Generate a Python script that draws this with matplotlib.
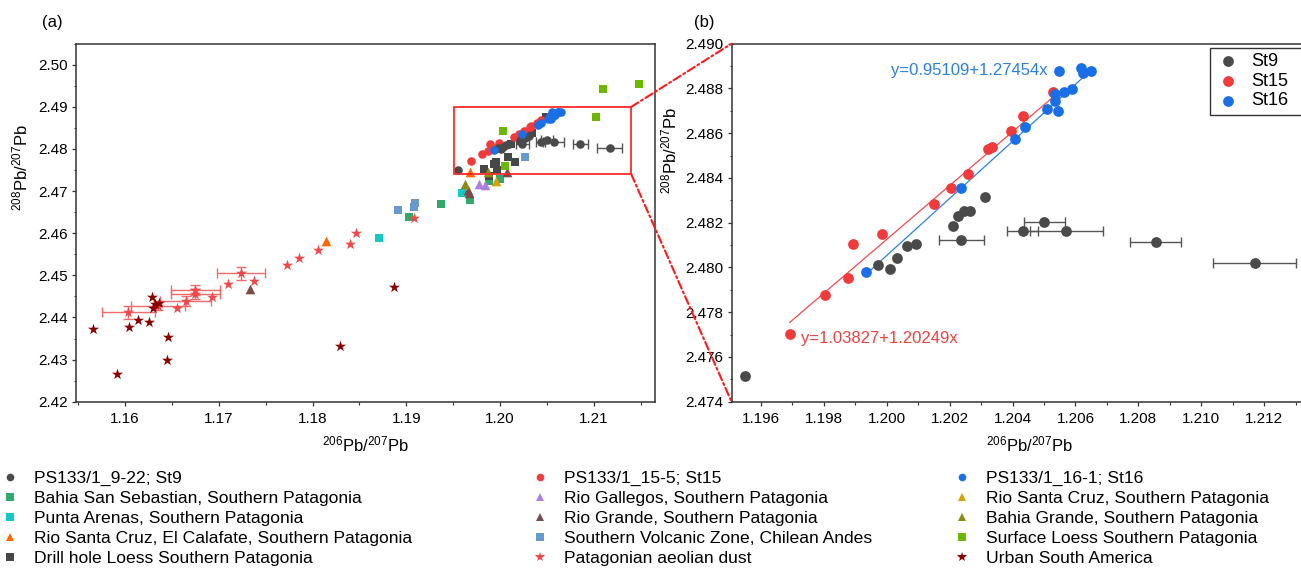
import numpy as np
import matplotlib
matplotlib.use('Agg')
import matplotlib.pyplot as plt
from matplotlib.lines import Line2D
from matplotlib.patches import Rectangle, ConnectionPatch

plt.rcParams['font.family'] = ['Liberation Sans', 'DejaVu Sans']
plt.rcParams['mathtext.fontset'] = 'custom'
plt.rcParams['mathtext.rm'] = 'Liberation Sans'
plt.rcParams['mathtext.default'] = 'regular'

# --- this study ---
st9_x = [1.19548, 1.19973, 1.20011, 1.20032, 1.20064, 1.20094, 1.20212, 1.20227, 1.20244,
         1.20263, 1.20312, 1.20237, 1.20432, 1.20501, 1.20571, 1.20855, 1.21170]
st9_y = [2.47513, 2.48012, 2.47993, 2.48042, 2.48094, 2.48107, 2.48186, 2.48228, 2.48254,
         2.48254, 2.48315, 2.48124, 2.48162, 2.48205, 2.48162, 2.48115, 2.48021]
st9_xerr = [0, 0, 0, 0, 0, 0, 0, 0, 0,
            0, 0, 0.00071, 0.00050, 0.00066, 0.00116, 0.00082, 0.00131]

st15_x = [1.19691, 1.19803, 1.19875, 1.19892, 1.19984, 1.20149, 1.20205, 1.20259, 1.20322,
          1.20333, 1.20394, 1.20432, 1.20529]
st15_y = [2.47704, 2.47878, 2.47955, 2.48107, 2.48150, 2.48284, 2.48353, 2.48417, 2.48531,
          2.48537, 2.48610, 2.48679, 2.48786]

st16_x = [1.19935, 1.20236, 1.20409, 1.20440, 1.20510, 1.20545, 1.20534, 1.20536, 1.20565,
          1.20589, 1.20549, 1.20617, 1.20623, 1.20649]
st16_y = [2.47981, 2.48356, 2.48576, 2.48627, 2.48708, 2.48701, 2.48744, 2.48775, 2.48783,
          2.48799, 2.48879, 2.48890, 2.48868, 2.48879]

# regression coefficients (intercept, slope)
fit15 = (1.03827, 1.20249)
fit16 = (0.95109, 1.27454)

# --- literature data ---
bss_x = [1.19029, 1.19371, 1.19680, 1.19886, 1.20000]
bss_y = [2.46377, 2.46693, 2.46788, 2.47251, 2.47299]

punta_x = [1.18706, 1.19598]
punta_y = [2.45893, 2.46947]

rsc_cal_x = [1.18141, 1.19680]
rsc_cal_y = [2.45822, 2.47460]

drill_x = [1.19829, 1.19940, 1.19960, 1.19964, 1.20080, 1.20160, 1.20115, 1.20231, 1.20340,
           1.20489, 1.19886]
drill_y = [2.47517, 2.47645, 2.47700, 2.47498, 2.47816, 2.47700, 2.48110, 2.48190, 2.48373,
           2.48748, 2.47358]

gallegos_x = [1.19779, 1.19840]
gallegos_y = [2.47178, 2.47144]

rgrande_x = [1.17333, 1.19662, 1.19670, 1.20071]
rgrande_y = [2.44675, 2.47022, 2.46950, 2.47443]

svz_x = [1.18909, 1.19079, 1.19090, 1.20267]
svz_y = [2.46558, 2.46629, 2.46709, 2.47802]

dust_x = [1.16036, 1.16352, 1.16551, 1.16647, 1.16750, 1.16750, 1.16931, 1.17095, 1.17237,
          1.17373, 1.17725, 1.17856, 1.18055, 1.18400, 1.18464, 1.19079]
dust_y = [2.44122, 2.44282, 2.44224, 2.44390, 2.44550, 2.44650, 2.44493, 2.44793, 2.45047,
          2.44870, 2.45245, 2.45404, 2.45601, 2.45736, 2.46012, 2.46353]
dust_xerr = [0.0028, 0.0029, 0, 0.0027, 0.0026, 0.0026, 0, 0, 0.0026,
             0, 0, 0, 0, 0, 0, 0]
dust_yerr = [0.0016, 0.0010, 0, 0.0012, 0.0012, 0.0012, 0, 0, 0.0016,
             0, 0, 0, 0, 0, 0, 0]

rsc_x = [1.19957]
rsc_y = [2.47234]

bgrande_x = [1.19627, 1.19875]
bgrande_y = [2.47178, 2.47460]

surf_x = [1.21102, 1.21483, 1.21024, 1.20035, 1.20053, 1.19960]
surf_y = [2.49423, 2.49534, 2.48766, 2.48435, 2.47603, 2.48025]

urban_x = [1.15662, 1.15918, 1.16043, 1.16142, 1.16256, 1.16285, 1.16302, 1.16320, 1.16366,
           1.16455, 1.16445, 1.18293, 1.18873]
urban_y = [2.43726, 2.42650, 2.43780, 2.43939, 2.43899, 2.44493, 2.44217, 2.44312, 2.44336,
           2.43529, 2.42990, 2.43329, 2.44717]

c_st9, c_st15, c_st16 = '#4a4a4a', '#ef3b3b', '#1a6fe6'

# (label, x, y, marker, color) in legend order
others = [
    ('Bahia San Sebastian, Southern Patagonia', bss_x, bss_y, 's', '#33a86b'),
    ('Punta Arenas, Southern Patagonia', punta_x, punta_y, 's', '#14c8c8'),
    ('Rio Santa Cruz, El Calafate, Southern Patagonia', rsc_cal_x, rsc_cal_y, '^', '#ff6600'),
    ('Drill hole Loess Southern Patagonia', drill_x, drill_y, 's', '#474747'),
    ('Rio Gallegos, Southern Patagonia', gallegos_x, gallegos_y, '^', '#b07ee0'),
    ('Rio Grande, Southern Patagonia', rgrande_x, rgrande_y, '^', '#7a4b4b'),
    ('Southern Volcanic Zone, Chilean Andes', svz_x, svz_y, 's', '#6699cc'),
    ('Patagonian aeolian dust', dust_x, dust_y, '*', '#f04848'),
    ('Rio Santa Cruz, Southern Patagonia', rsc_x, rsc_y, '^', '#d6a000'),
    ('Bahia Grande, Southern Patagonia', bgrande_x, bgrande_y, '^', '#8c8c10'),
    ('Surface Loess Southern Patagonia', surf_x, surf_y, 's', '#6cb800'),
    ('Urban South America', urban_x, urban_y, '*', '#8b0000'),
]
msize = {'s': 36, '^': 48, '*': 70, 'o': 38}

W, H = 1301, 571
fig = plt.figure(figsize=(W / 100, H / 100), dpi=100)
ax_a = fig.add_axes([76 / W, 169.3 / H, 579 / W, 358 / H])
ax_b = fig.add_axes([731.5 / W, 169.3 / H, 595.5 / W, 358 / H])

# ---- panel (a) ----
m = np.array(dust_xerr) > 0
ax_a.errorbar(np.array(dust_x)[m], np.array(dust_y)[m], xerr=np.array(dust_xerr)[m],
              yerr=np.array(dust_yerr)[m], fmt='none', ecolor='#f26a6a', elinewidth=1,
              capsize=3.5, zorder=2)
for lab, xs, ys, mk, col in others:
    ax_a.scatter(xs, ys, marker=mk, s=msize[mk], color=col, linewidths=0, zorder=3)

m9 = np.array(st9_xerr) > 0
for ax in (ax_a, ax_b):
    ax.errorbar(np.array(st9_x)[m9], np.array(st9_y)[m9], xerr=np.array(st9_xerr)[m9],
                fmt='none', ecolor='#555555', elinewidth=1, capsize=3.5, zorder=3)

s_circ = 38
ax_a.scatter(st15_x, st15_y, s=s_circ, color=c_st15, linewidths=0, zorder=4)
ax_a.scatter(st9_x, st9_y, s=s_circ, color=c_st9, linewidths=0, zorder=4)
ax_a.scatter(st16_x, st16_y, s=s_circ, color=c_st16, linewidths=0, zorder=5)

ax_a.set_xlim(1.15477, 1.21653)
ax_a.set_ylim(2.42, 2.505)
ax_a.set_xticks(np.arange(1.16, 1.2101, 0.01))
ax_a.set_xticks(np.arange(1.155, 1.2151, 0.005), minor=True)
ax_a.set_yticks(np.arange(2.42, 2.5001, 0.01))
ax_a.set_yticks(np.arange(2.42, 2.5051, 0.005), minor=True)
ax_a.set_xticklabels([f'{v:.2f}' for v in np.arange(1.16, 1.2101, 0.01)])
ax_a.set_yticklabels([f'{v:.2f}' for v in np.arange(2.42, 2.5001, 0.01)])

rect = Rectangle((1.19506, 2.474), 1.214 - 1.19506, 2.490 - 2.474, fill=False,
                 edgecolor='#ff2a2a', linewidth=1.3, zorder=6)
ax_a.add_patch(rect)

# ---- panel (b) ----
x15 = np.array([min(st15_x), max(st15_x)])
x16 = np.array([min(st16_x), max(st16_x)])
ax_b.plot(x15, fit15[0] + fit15[1] * x15, color='#f04a4a', lw=0.9, zorder=2)
ax_b.plot(x16, fit16[0] + fit16[1] * x16, color='#2f7fe6', lw=0.9, zorder=2)
s_b = 60
ax_b.scatter(st9_x, st9_y, s=s_b, color=c_st9, linewidths=0, zorder=4, label='St9')
ax_b.scatter(st15_x, st15_y, s=s_b, color=c_st15, linewidths=0, zorder=4, label='St15')
ax_b.scatter(st16_x, st16_y, s=s_b, color=c_st16, linewidths=0, zorder=5, label='St16')
ax_b.text(1.2051, 2.48879, 'y=0.95109+1.27454x', color='#2a7fe0', fontsize=12,
          ha='right', va='center')
ax_b.text(1.19726, 2.47684, 'y=1.03827+1.20249x', color='#ef4040', fontsize=12,
          ha='left', va='center')

ax_b.set_xlim(1.19506, 1.214)
ax_b.set_ylim(2.474, 2.490)
ax_b.set_xticks(np.arange(1.196, 1.2121, 0.002))
ax_b.set_xticks(np.arange(1.196, 1.2141, 0.001), minor=True)
ax_b.set_yticks(np.arange(2.474, 2.4901, 0.002))
ax_b.set_yticks(np.arange(2.474, 2.4901, 0.001), minor=True)
ax_b.set_xticklabels([f'{v:.3f}' for v in np.arange(1.196, 1.2121, 0.002)])
ax_b.set_yticklabels([f'{v:.3f}' for v in np.arange(2.474, 2.4901, 0.002)])

leg_b = ax_b.legend(loc='upper left', bbox_to_anchor=(0.8035, 0.5, 0.22, 0.489),
                    mode='expand', fontsize=13, frameon=True, fancybox=False,
                    edgecolor='black', borderpad=0.3, labelspacing=0.15,
                    handletextpad=0.6, handlelength=1.4, borderaxespad=0, scatterpoints=1)
leg_b.get_frame().set_linewidth(1.0)

for ax in (ax_a, ax_b):
    for sp in ax.spines.values():
        sp.set_color('#333333')
        sp.set_linewidth(1.1)
    ax.tick_params(which='major', direction='out', length=3.2, width=0.9, color='#333333',
                   labelsize=11, top=False, right=False)
    ax.tick_params(which='minor', direction='out', length=1.8, width=0.8, color='#333333',
                   top=False, right=False)
    ax.tick_params(axis='x', pad=4)
    ax.tick_params(axis='y', pad=3)
    ax.set_xlabel(r'$^{206}$Pb/$^{207}$Pb', fontsize=12, labelpad=6)
    ax.set_ylabel(r'$^{208}$Pb/$^{207}$Pb', fontsize=12)

ax_a.yaxis.set_label_coords(-0.078, 0.653)
ax_b.yaxis.set_label_coords(-0.088, 0.70)

fig.text(52 / W, 1 - 23 / H, '(a)', fontsize=12, ha='center', va='center')
fig.text(704 / W, 1 - 22 / H, '(b)', fontsize=12, ha='center', va='center')

# zoom connectors
for ya, yb in ((2.490, 1), (2.474, 0)):
    con = ConnectionPatch(xyA=(1.214, ya), coordsA=ax_a.transData,
                          xyB=(0, yb), coordsB=ax_b.transAxes,
                          color='#ff1a1a', lw=1.5, linestyle=(0, (4, 1.5, 1, 1.5)))
    fig.add_artist(con)

# ---- bottom legend (three columns) ----
st_labels = ['PS133/1_9-22; St9', 'PS133/1_15-5; St15', 'PS133/1_16-1; St16']
st_colors = [c_st9, c_st15, c_st16]
lsize = {'o': 5.5, 's': 5.3, '^': 6, '*': 7.5}
col_x = [1, 531, 953]
for ci in range(3):
    chunk = [(st_labels[ci], 'o', st_colors[ci])]
    chunk += [(o[0], o[3], o[4]) for o in others[ci * 4:(ci + 1) * 4]]
    hs = [Line2D([], [], ls='none', marker=mk, color=c, markersize=lsize[mk],
                 markeredgewidth=0) for _, mk, c in chunk]
    fig.legend(hs, [t for t, _, _ in chunk], loc='upper left',
               bbox_to_anchor=(col_x[ci] / W, 1 - 471 / H), frameon=False, fontsize=12.6,
               borderpad=0, borderaxespad=0, labelspacing=0.27, handlelength=1.05,
               handletextpad=0.85)

fig.savefig('out.png', dpi=100)
